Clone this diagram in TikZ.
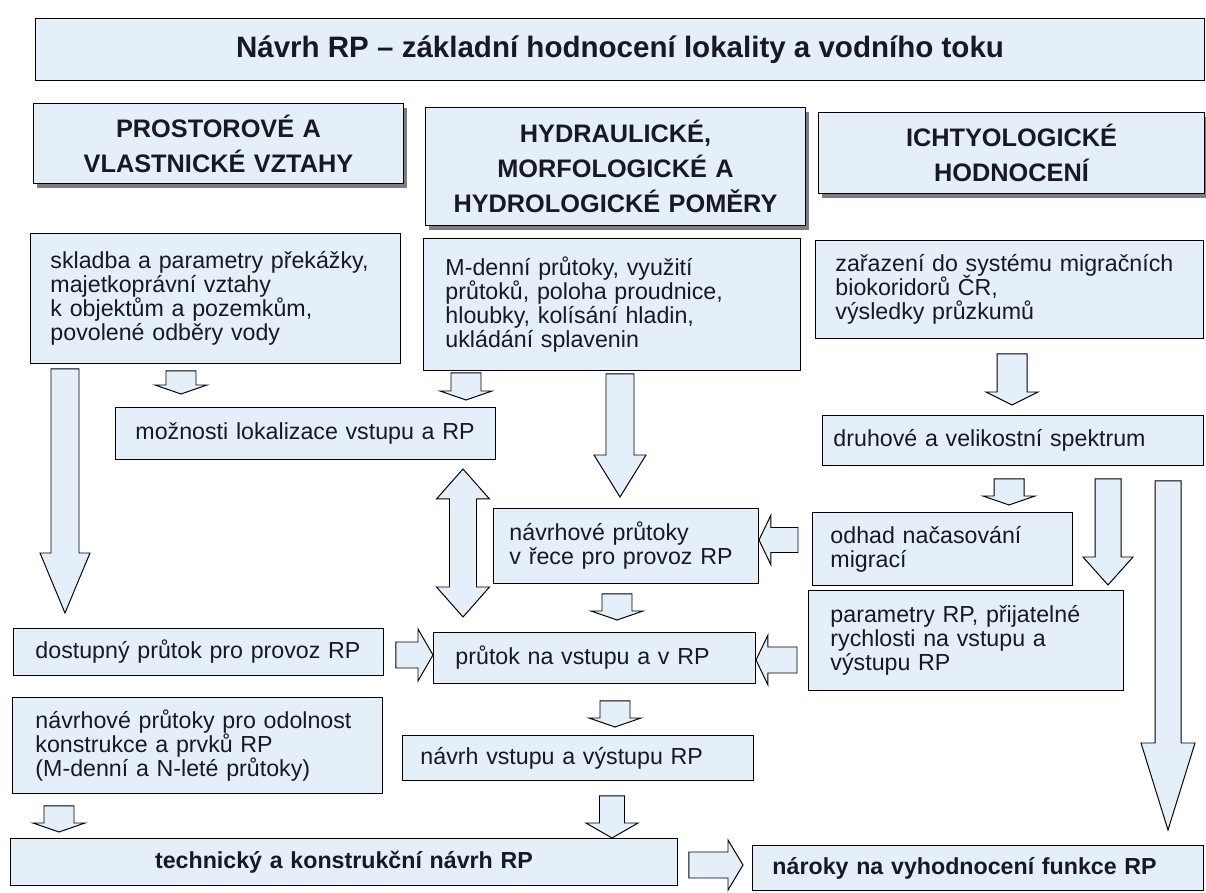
\documentclass[tikz,border=0pt]{standalone}
\usepackage{fontspec}
\setmainfont{Liberation Sans}
\usetikzlibrary{calc, shadows}
\usepackage{xcolor}
\definecolor{boxfill}{RGB}{228, 239, 250}
\definecolor{textdark}{RGB}{25, 25, 35}
\definecolor{shadowgray}{RGB}{125, 125, 130}
\newlength{\px}
\setlength{\px}{0.025cm}
\newcommand{\bodyfont}{\fontsize{16.5}{17}\selectfont\lineskiplimit=-10pt}
\newcommand{\headfont}{\fontsize{18}{25}\selectfont\bfseries\lineskiplimit=-10pt}
\tikzset{
    plain box/.style={
        rectangle,
        draw=black,
        line width=0.7pt,
        fill=boxfill,
        text=textdark,
        anchor=north west,
        inner xsep=20\px,
        inner ysep=0pt
    },
    text box/.style={
        plain box,
        align=left,
        font=\bodyfont
    },
    head box/.style={
        plain box,
        align=center,
        font=\headfont,
        drop shadow={shadow xshift=4\px, shadow yshift=-5\px, fill=shadowgray, opacity=1}
    },
    bold box/.style={
        plain box,
        align=center,
        font=\bodyfont\bfseries
    },
    % shaft half width, head half width, head length, gap at start, gap at end
    block arrow/.style n args={5}{
        draw=black,
        fill=boxfill,
        line width=0.7pt,
        line join=miter,
        to path={
            ($(\tikztostart)!#4\px!(\tikztotarget)$) coordinate (ba-s)
            ($(\tikztotarget)!#5\px!(\tikztostart)$) coordinate (ba-t)
            ($(ba-t)!#3\px!(ba-s)$) coordinate (ba-h)
            ($(ba-s)!#1\px!90:(ba-t)$)
            -- ($(ba-h)!#1\px!90:(ba-t)$)
            -- ($(ba-h)!#2\px!90:(ba-t)$)
            -- (ba-t)
            -- ($(ba-h)!#2\px!-90:(ba-t)$)
            -- ($(ba-h)!#1\px!-90:(ba-t)$)
            -- ($(ba-s)!#1\px!-90:(ba-t)$)
            -- cycle
        }
    },
    double block arrow/.style n args={5}{
        draw=black,
        fill=boxfill,
        line width=0.7pt,
        line join=miter,
        to path={
            ($(\tikztostart)!#4\px!(\tikztotarget)$) coordinate (ba-s)
            ($(\tikztotarget)!#5\px!(\tikztostart)$) coordinate (ba-t)
            ($(ba-s)!#3\px!(ba-t)$) coordinate (ba-g)
            ($(ba-t)!#3\px!(ba-s)$) coordinate (ba-h)
            (ba-s)
            -- ($(ba-g)!#2\px!90:(ba-t)$)
            -- ($(ba-g)!#1\px!90:(ba-t)$)
            -- ($(ba-h)!#1\px!90:(ba-t)$)
            -- ($(ba-h)!#2\px!90:(ba-t)$)
            -- (ba-t)
            -- ($(ba-h)!#2\px!-90:(ba-t)$)
            -- ($(ba-h)!#1\px!-90:(ba-t)$)
            -- ($(ba-g)!#1\px!-90:(ba-t)$)
            -- ($(ba-g)!#2\px!-90:(ba-t)$)
            -- cycle
        }
    },
    small arrow/.style 2 args={
        block arrow={15}{26}{9}{#1}{#2}
    }
}

\begin{document}
\begin{tikzpicture}[x=0.025cm, y=-0.025cm]

\useasboundingbox (0,0) rectangle (1206,893);

% Title
\node[plain box, align=center, font=\fontsize{21}{25}\selectfont\bfseries,
      minimum width=1169\px, minimum height=62\px] (title) at (35,18)
    {N\'avrh RP -- z\'akladn\'i hodnocen\'i lokality a vodn\'iho toku};

% === HEADERS ===
\node[head box, text width=330\px, minimum height=80\px] (prost) at (33,103)
    {PROSTOROVÉ A\\VLASTNICKÉ VZTAHY};
\node[head box, text width=340\px, minimum height=118\px] (hydr) at (425,107)
    {HYDRAULICKÉ,\\MORFOLOGICKÉ A\\HYDROLOGICKÉ POMĚRY};
\node[head box, text width=346\px, minimum height=81\px] (ichty) at (818,112)
    {ICHTYOLOGICKÉ\\HODNOCENÍ};

% === INPUT DATA ===
\node[text box, text width=330\px, minimum height=130\px] (sklad) at (30,233)
    {skladba a parametry překážky,\\majetkoprávní vztahy\\k objektům a pozemkům,\\povolené odběry vody};
\node[text box, inner xsep=22\px, text width=333\px, minimum height=132\px] (mden) at (423,238)
    {M-denní průtoky, využití\\průtoků, poloha proudnice,\\hloubky, kolísání hladin,\\ukládání splavenin};
\node[text box, text width=348\px, minimum height=98\px] (zaraz) at (815,240)
    {zařazení do systému migračních\\biokoridorů ČR,\\výsledky průzkumů};

% === SECOND LEVEL ===
\node[text box, inner xsep=20\px, text width=340\px, minimum height=52\px] (mozn) at (115,407)
    {možnosti lokalizace vstupu a RP};
\node[text box, inner xsep=11\px, text width=359\px, minimum height=50\px] (druh) at (822,415)
    {druhové a velikostní spektrum};
\node[text box, inner xsep=16\px, text width=233\px, minimum height=75\px] (navrh) at (493,508)
    {návrhové průtoky\\v řece pro provoz RP};
\node[text box, inner xsep=18\px, text width=224\px, minimum height=73\px] (odhad) at (812,512)
    {odhad načasování\\migrací};
\node[text box, inner xsep=22\px, text width=271\px, minimum height=100\px] (param) at (808,590)
    {parametry RP, přijatelné\\rychlosti na vstupu a\\výstupu RP};

% === FLOWS ===
\node[text box, inner xsep=22\px, text width=326\px, minimum height=47\px] (dostup) at (13,628)
    {dostupný průtok pro provoz RP};
\node[text box, inner xsep=22\px, text width=278\px, minimum height=51\px] (prutok) at (433,632)
    {průtok na vstupu a v RP};
\node[text box, inner xsep=23\px, text width=324\px, minimum height=96\px] (odoln) at (12,697)
    {návrhové průtoky pro odolnost\\konstrukce a prvků RP\\(M-denní a N-leté průtoky)};
\node[text box, inner xsep=18\px, text width=315\px, minimum height=45\px] (vstup) at (402,735)
    {návrh vstupu a výstupu RP};

% === RESULTS ===
\node[bold box, text width=627\px, minimum height=47\px] (techn) at (10,838)
    {technický a konstrukční návrh RP};
\node[bold box, align=left, text width=411\px, minimum height=45\px] (naroky) at (752,845)
    {nároky na vyhodnocení funkce RP};

% === BLOCK ARROWS ===

% left column
\draw[small arrow={7}{13}] (sklad.south-|181,0) to (mozn.north-|181,0);
\draw[block arrow={14}{25}{60}{5}{15}] (sklad.south-|65,0) to (dostup.north-|65,0);
\draw[block arrow={13}{26}{15}{12}{0}] (dostup.east|-0,655) to (prutok.west|-0,655);
\draw[small arrow={12}{6}] (odoln.south-|59,0) to (techn.north-|59,0);

% middle column
\draw[small arrow={2}{7}] (mden.south-|466,0) to (mozn.north-|466,0);
\draw[block arrow={14}{26}{42}{3}{11}] (mden.south-|620,0) to (navrh.north-|620,0);
\draw[double block arrow={13.5}{26.5}{30}{9}{15}] (mozn.south-|463,0) to (prutok.north-|463,0);
\draw[small arrow={10}{12}] (navrh.south-|617,0) to (prutok.north-|617,0);
\draw[small arrow={17}{8}] (prutok.south-|615,0) to (vstup.north-|615,0);
\draw[block arrow={12.5}{26}{15}{15}{0}] (vstup.south-|612,0) to (techn.north-|612,0);
\draw[block arrow={13}{25}{15}{11}{9}] (techn.east|-0,865) to (naroky.west|-0,865);

% right column
\draw[block arrow={15}{26}{13}{15}{10}] (zaraz.south-|1012,0) to (druh.north-|1012,0);
\draw[small arrow={13}{7}] (druh.south-|1009,0) to (odhad.north-|1009,0);
\draw[block arrow={13}{25}{28}{13}{5}] (druh.south-|1108,0) to (param.north-|1108,0);
\draw[block arrow={13}{27}{87}{15}{15}] (druh.south-|1168,0) to (naroky.north-|1168,0);
\draw[block arrow={12.5}{25}{12}{14}{0}] (odhad.west|-0,540) to (navrh.east|-0,540);
\draw[block arrow={13}{25}{12}{11}{0}] (param.west|-0,660) to (prutok.east|-0,660);

\end{tikzpicture}
\end{document}
